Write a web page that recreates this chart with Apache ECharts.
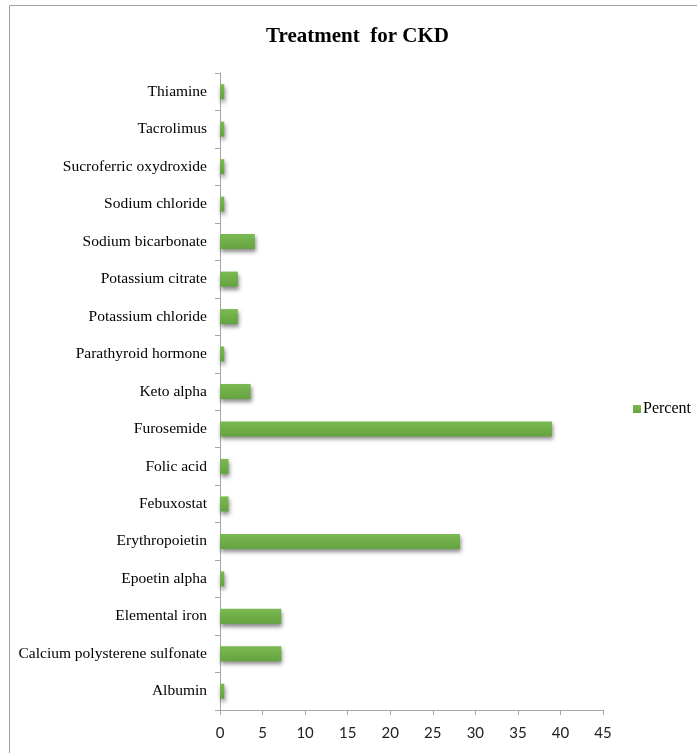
<!DOCTYPE html>
<html>
<head>
<meta charset="utf-8">
<script src="https://cdn.jsdelivr.net/npm/echarts@6/dist/echarts.min.js"></script>
<style>
  html, body { margin: 0; padding: 0; background: #fff; }
  #chart { width: 697px; height: 753px; }
</style>
</head>
<body>
<div id="chart"></div>
<script>
// Treatments, listed bottom to top on the category axis
const treatments = [
  'Albumin',
  'Calcium polysterene sulfonate',
  'Elemental iron',
  'Epoetin alpha',
  'Erythropoietin',
  'Febuxostat',
  'Folic acid',
  'Furosemide',
  'Keto alpha',
  'Parathyroid hormone',
  'Potassium chloride',
  'Potassium citrate',
  'Sodium bicarbonate',
  'Sodium chloride',
  'Sucroferric oxydroxide',
  'Tacrolimus',
  'Thiamine'
];

// Share of patients receiving each treatment (%)
const percent = [0.5, 7.2, 7.2, 0.5, 28.2, 1.0, 1.0, 39.0, 3.6, 0.5, 2.1, 2.1, 4.1, 0.5, 0.5, 0.5, 0.5];

// Value axis ticks
const xTicks = { min: 0, max: 45, step: 5 };

const chart = echarts.init(document.getElementById('chart'));

chart.setOption({
  animation: false,
  backgroundColor: '#fff',
  graphic: [{
    type: 'rect',
    shape: { x: 9.5, y: 5.5, width: 700, height: 760 },
    style: { fill: 'none', stroke: '#a0a0a0', lineWidth: 1 },
    silent: true,
    z: -1
  }],
  title: {
    text: 'Treatment  for CKD',
    left: 266,
    top: 26,
    padding: 0,
    textStyle: {
      fontFamily: 'Liberation Serif',
      fontWeight: 'bold',
      fontSize: 21,
      color: '#000'
    }
  },
  legend: {
    data: ['Percent'],
    left: 628,
    top: 396,
    orient: 'vertical',
    icon: 'rect',
    itemWidth: 8,
    itemHeight: 8,
    itemGap: 4,
    textStyle: {
      fontFamily: 'Liberation Serif',
      fontSize: 16,
      color: '#000',
      padding: [0, 0, 0, -3]
    }
  },
  grid: {
    left: 220,
    right: 94,
    top: 73,
    bottom: 43,
    containLabel: false
  },
  xAxis: {
    type: 'value',
    min: xTicks.min,
    max: xTicks.max,
    interval: xTicks.step,
    axisLine: { show: true, lineStyle: { color: '#a6a6a6', width: 1 } },
    axisTick: { show: true, length: 5, lineStyle: { color: '#a6a6a6' } },
    splitLine: { show: false },
    axisLabel: {
      margin: 16,
      fontFamily: 'Lato',
      fontSize: 15,
      color: '#222'
    }
  },
  yAxis: {
    type: 'category',
    data: treatments,
    axisLine: { show: true, lineStyle: { color: '#a6a6a6', width: 1 } },
    axisTick: { show: true, length: 5, lineStyle: { color: '#a6a6a6' } },
    axisLabel: {
      margin: 13,
      fontFamily: 'Liberation Serif',
      fontSize: 15.5,
      color: '#000'
    }
  },
  series: [{
    name: 'Percent',
    type: 'bar',
    data: percent,
    barWidth: 15,
    itemStyle: {
      color: new echarts.graphic.LinearGradient(0, 0, 0, 1, [
        { offset: 0, color: '#7bb953' },
        { offset: 1, color: '#63a33d' }
      ]),
      shadowColor: 'rgba(0,0,0,0.45)',
      shadowBlur: 4,
      shadowOffsetX: 1,
      shadowOffsetY: 3
    }
  }]
});
</script>
</body>
</html>
